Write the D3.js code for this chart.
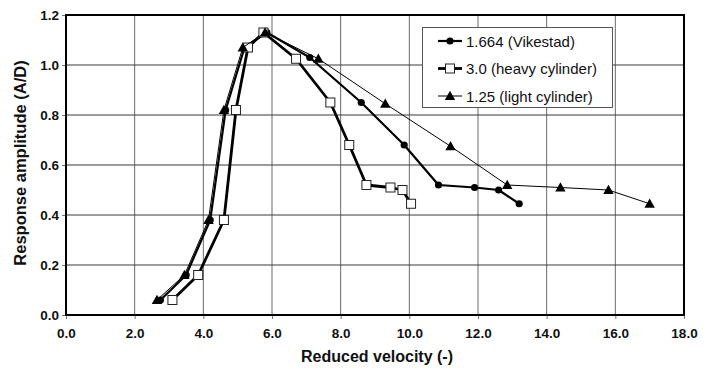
<!DOCTYPE html>
<html>
<head>
<meta charset="utf-8">
<script src="https://cdn.jsdelivr.net/npm/d3@7"></script>
<style>
  body { margin: 0; background: #fff; }
  svg { display: block; font-family: "Liberation Sans", Arial, sans-serif; }
</style>
</head>
<body>
<svg id="chart" width="711" height="371"></svg>
<script>
const xTicks = [0, 2, 4, 6, 8, 10, 12, 14, 16, 18];
const yTicks = [0, 0.2, 0.4, 0.6, 0.8, 1.0, 1.2];

const vikX = [2.75, 3.5, 4.2, 4.65, 5.2, 5.85, 7.1, 8.6, 9.85, 10.85, 11.9, 12.6, 13.2];
const vikY = [0.06, 0.16, 0.38, 0.82, 1.07, 1.13, 1.03, 0.85, 0.68, 0.52, 0.51, 0.50, 0.445];
const heavyX = [3.1, 3.85, 4.6, 4.95, 5.3, 5.75, 6.7, 7.7, 8.25, 8.75, 9.45, 9.8, 10.05];
const heavyY = [0.06, 0.16, 0.38, 0.82, 1.07, 1.13, 1.025, 0.85, 0.68, 0.52, 0.51, 0.50, 0.445];
const lightX = [2.65, 3.45, 4.15, 4.6, 5.15, 5.8, 7.35, 9.3, 11.2, 12.85, 14.4, 15.8, 17.0];
const lightY = [0.06, 0.16, 0.38, 0.82, 1.07, 1.13, 1.025, 0.845, 0.675, 0.52, 0.51, 0.50, 0.445];

const seriesNames = ["1.664 (Vikestad)", "3.0 (heavy cylinder)", "1.25 (light cylinder)"];

const svg = d3.select("#chart");
const m = { left: 66, right: 684, top: 15, bottom: 315 };
const x = d3.scaleLinear().domain([0, 18]).range([m.left, m.right]);
const y = d3.scaleLinear().domain([0, 1.2]).range([m.bottom, m.top]);

// grid
const g = svg.append("g");
g.selectAll(".vg").data(xTicks.slice(1, -1)).enter().append("line")
  .attr("x1", d => x(d)).attr("x2", d => x(d))
  .attr("y1", m.top).attr("y2", m.bottom)
  .attr("stroke", "#6a6a6a").attr("stroke-width", 1);
g.selectAll(".hg").data(yTicks.slice(1, -1)).enter().append("line")
  .attr("y1", d => y(d)).attr("y2", d => y(d))
  .attr("x1", m.left).attr("x2", m.right)
  .attr("stroke", "#3a3a3a").attr("stroke-width", 1);

// axes
const xAxis = d3.axisBottom(x).tickValues(xTicks).tickFormat(d3.format(".1f")).tickSize(4).tickPadding(9);
const yAxis = d3.axisLeft(y).tickValues(yTicks).tickFormat(d3.format(".1f")).tickSize(4).tickPadding(3);
const ax = svg.append("g").attr("transform", `translate(0,${m.bottom})`).call(xAxis);
const ay = svg.append("g").attr("transform", `translate(${m.left},0)`).call(yAxis);
[ax, ay].forEach(a => {
  a.select(".domain").remove();
  a.selectAll(".tick line").attr("stroke", "#777");
  a.selectAll(".tick text").attr("font-size", 13.5).attr("font-weight", "bold")
    .attr("fill", "#111").attr("font-family", "Liberation Sans, Arial, sans-serif");
});

// frame
svg.append("rect").attr("x", m.left).attr("y", m.top)
  .attr("width", m.right - m.left).attr("height", m.bottom - m.top)
  .attr("fill", "none").attr("stroke", "#000").attr("stroke-width", 2);

// titles
svg.append("text").attr("x", 377).attr("y", 362).attr("text-anchor", "middle")
  .attr("font-size", 16).attr("font-weight", "bold").attr("fill", "#111")
  .text("Reduced velocity (-)");
svg.append("text").attr("transform", "translate(26,163) rotate(-90)")
  .attr("text-anchor", "middle").attr("font-size", 16.5).attr("font-weight", "bold").attr("fill", "#111")
  .text("Response amplitude (A/D)");

const line = d3.line().x(d => x(d[0])).y(d => y(d[1]));
const zip = (a, b) => a.map((v, i) => [v, b[i]]);

const series = [
  { name: seriesNames[0], data: zip(vikX, vikY), width: 2.2, marker: "circle" },
  { name: seriesNames[1], data: zip(heavyX, heavyY), width: 2.8, marker: "square" },
  { name: seriesNames[2], data: zip(lightX, lightY), width: 1, marker: "triangle" }
];

function drawMarker(sel, type, cx, cy) {
  if (type === "circle") {
    sel.append("circle").attr("cx", cx).attr("cy", cy).attr("r", 3.6).attr("fill", "#000");
  } else if (type === "square") {
    sel.append("rect").attr("x", cx - 4.5).attr("y", cy - 4.5).attr("width", 9).attr("height", 9)
      .attr("fill", "#fff").attr("stroke", "#222").attr("stroke-width", 1);
  } else {
    const s = 5.2;
    sel.append("path").attr("d", `M${cx},${cy - s}L${cx + s},${cy + s * 0.75}L${cx - s},${cy + s * 0.75}Z`)
      .attr("fill", "#000");
  }
}

series.forEach(s => {
  svg.append("path").datum(s.data).attr("d", line)
    .attr("fill", "none").attr("stroke", "#000").attr("stroke-width", s.width)
    .attr("stroke-linejoin", "round");
  const mg = svg.append("g");
  s.data.forEach(d => drawMarker(mg, s.marker, x(d[0]), y(d[1])));
});

// legend
const lg = svg.append("g");
lg.append("rect").attr("x", 422.5).attr("y", 27.5).attr("width", 190).attr("height", 80)
  .attr("fill", "#fff").attr("stroke", "#555").attr("stroke-width", 1);
series.forEach((s, i) => {
  const ly = 41 + i * 27.5;
  lg.append("line").attr("x1", 438).attr("x2", 462).attr("y1", ly).attr("y2", ly)
    .attr("stroke", "#000").attr("stroke-width", s.width);
  drawMarker(lg, s.marker, 450, ly);
  lg.append("text").attr("x", 466).attr("y", ly + 5.5).attr("font-size", 15).attr("fill", "#111")
    .text(s.name);
});
</script>
</body>
</html>
